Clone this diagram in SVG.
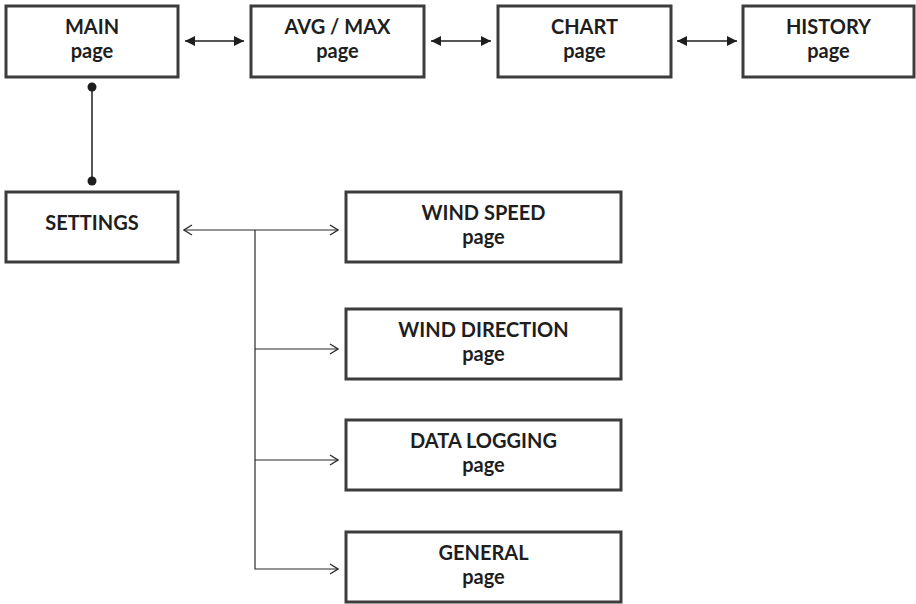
<svg xmlns="http://www.w3.org/2000/svg" width="916" height="604" viewBox="0 0 916 604">
<style>
.box{fill:#fff;stroke:#3c3c3c;stroke-width:3}
.t{font-family:Lato,"Noto Sans",sans-serif;font-weight:700;font-size:20px;fill:#1e1e1e;text-anchor:middle}
.c{stroke:#1e1e1e;stroke-width:1.5;fill:none}
.c2{stroke:#2a2a2a;stroke-width:1.2;fill:none}
</style>
<defs>
<marker id="fa" viewBox="0 0 10 10" refX="10" refY="5" markerWidth="10" markerHeight="10" markerUnits="userSpaceOnUse" orient="auto-start-reverse"><path d="M0,0 L10,5 L0,10 z" fill="#1e1e1e"/></marker>
<marker id="oa" viewBox="0 0 10 12" refX="9" refY="6" markerWidth="10" markerHeight="12" markerUnits="userSpaceOnUse" orient="auto-start-reverse"><path d="M1,1 L9,6 L1,11" fill="none" stroke="#2a2a2a" stroke-width="1.3"/></marker>
<marker id="dot" viewBox="0 0 10 10" refX="5" refY="5" markerWidth="10" markerHeight="10" markerUnits="userSpaceOnUse"><circle cx="5" cy="5" r="4.5" fill="#1e1e1e"/></marker>
</defs>
<g id="connectors">
<line class="c" x1="185" y1="41" x2="244" y2="41" marker-start="url(#fa)" marker-end="url(#fa)"/>
<line class="c" x1="431" y1="41" x2="491" y2="41" marker-start="url(#fa)" marker-end="url(#fa)"/>
<line class="c" x1="677" y1="41" x2="737" y2="41" marker-start="url(#fa)" marker-end="url(#fa)"/>
<line class="c" x1="92" y1="87" x2="92" y2="181" marker-start="url(#dot)" marker-end="url(#dot)"/>
<line class="c2" x1="184" y1="230" x2="338" y2="230" marker-start="url(#oa)" marker-end="url(#oa)"/>
<polyline class="c2" points="255,230 255,569 338,569" marker-end="url(#oa)"/>
<line class="c2" x1="255" y1="349" x2="338" y2="349" marker-end="url(#oa)"/>
<line class="c2" x1="255" y1="460" x2="338" y2="460" marker-end="url(#oa)"/>
</g>
<g id="main"><rect class="box" x="6" y="6" width="172" height="71"/><text class="t" x="92" y="34">MAIN</text><text class="t" x="92" y="58">page</text></g>
<g id="avgmax"><rect class="box" x="251" y="6" width="173" height="71"/><text class="t" x="337.5" y="34">AVG / MAX</text><text class="t" x="337.5" y="58">page</text></g>
<g id="chart"><rect class="box" x="498" y="6" width="173" height="71"/><text class="t" x="584.5" y="34">CHART</text><text class="t" x="584.5" y="58">page</text></g>
<g id="history"><rect class="box" x="743" y="6" width="171" height="71"/><text class="t" x="828.5" y="34">HISTORY</text><text class="t" x="828.5" y="58">page</text></g>
<g id="settings"><rect class="box" x="6" y="192" width="172" height="70"/><text class="t" x="92" y="230">SETTINGS</text></g>
<g id="windspeed"><rect class="box" x="346" y="192" width="275" height="70"/><text class="t" x="483.5" y="220">WIND SPEED</text><text class="t" x="483.5" y="244">page</text></g>
<g id="winddirection"><rect class="box" x="346" y="309" width="275" height="70"/><text class="t" x="483.5" y="337">WIND DIRECTION</text><text class="t" x="483.5" y="361">page</text></g>
<g id="datalogging"><rect class="box" x="346" y="420" width="275" height="70"/><text class="t" x="483.5" y="448">DATA LOGGING</text><text class="t" x="483.5" y="472">page</text></g>
<g id="general"><rect class="box" x="346" y="532" width="275" height="70"/><text class="t" x="483.5" y="560">GENERAL</text><text class="t" x="483.5" y="584">page</text></g>
</svg>
